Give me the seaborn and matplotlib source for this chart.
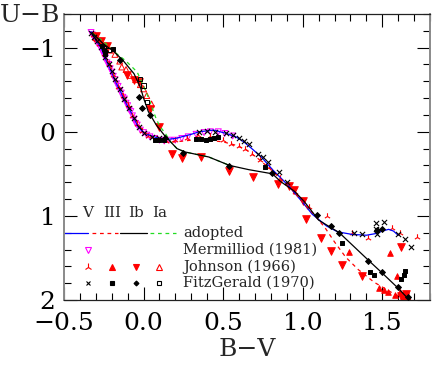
import matplotlib
matplotlib.use("Agg")
import matplotlib.pyplot as plt
from matplotlib.ticker import MultipleLocator
import pandas as pd
import seaborn as sns

# ---------------- adopted sequences (B-V, U-B) ----------------
v_bv = [-0.33, -0.31, -0.30, -0.27, -0.24, -0.21, -0.17, -0.15, -0.13, -0.11, -0.07, -0.04, -0.02, 0.01,
        0.05, 0.10, 0.15, 0.20, 0.30, 0.35, 0.44, 0.52, 0.58, 0.63, 0.68, 0.74, 0.81, 0.91, 1.00, 1.06,
        1.15, 1.22, 1.31, 1.40, 1.46, 1.50, 1.54, 1.57, 1.60]
v_ub = [-1.19, -1.13, -1.09, -1.01, -0.87, -0.75, -0.57, -0.50, -0.42, -0.34, -0.20, -0.08, -0.03, 0.02,
        0.05, 0.08, 0.09, 0.08, 0.03, 0.00, -0.02, 0.02, 0.06, 0.12, 0.20, 0.30, 0.45, 0.64, 0.84, 0.98,
        1.12, 1.19, 1.22, 1.23, 1.21, 1.18, 1.16, 1.18, 1.23]

iii_bv = [-0.32, -0.29, -0.26, -0.24, -0.20, -0.17, -0.13, -0.11, -0.07, -0.03, 0.00, 0.05, 0.10, 0.15,
          0.20, 0.30, 0.40, 0.50, 0.58, 0.65, 0.72, 0.80, 0.86, 0.94, 1.00, 1.07, 1.14, 1.20, 1.27, 1.35,
          1.45, 1.54, 1.63]
iii_ub = [-1.18, -1.08, -0.98, -0.90, -0.74, -0.60, -0.45, -0.37, -0.21, -0.08, 0.00, 0.06, 0.10, 0.12,
          0.12, 0.10, 0.10, 0.12, 0.16, 0.22, 0.32, 0.45, 0.56, 0.70, 0.84, 0.98, 1.14, 1.31, 1.49, 1.64,
          1.79, 1.89, 1.99]

ib_bv = [-0.32, -0.25, -0.19, -0.13, -0.06, -0.02, 0.00, 0.03, 0.08, 0.13, 0.17, 0.21, 0.26, 0.41, 0.54,
         0.66, 0.81, 0.86, 0.95, 1.01, 1.10, 1.23, 1.42, 1.50, 1.60, 1.66]
ib_ub = [-1.17, -1.04, -0.96, -0.85, -0.69, -0.53, -0.40, -0.24, -0.08, 0.04, 0.12, 0.20, 0.24, 0.30, 0.40,
         0.45, 0.50, 0.59, 0.71, 0.83, 1.05, 1.20, 1.54, 1.68, 1.86, 1.98]

ia_bv = [-0.32, -0.25, -0.19, -0.11, -0.04, 0.01, 0.04, 0.074, 0.10, 0.137, 0.17, 0.21, 0.26, 0.41, 0.54]
ia_ub = [-1.17, -1.07, -0.96, -0.84, -0.71, -0.50, -0.36, -0.18, -0.07, 0.02, 0.12, 0.20, 0.24, 0.30, 0.40]

# ---------------- Mermilliod (1981), class V ----------------
merm_bv = [-0.33, -0.32, -0.31, -0.30, -0.29, -0.28, -0.27, -0.26, -0.25, -0.24, -0.23, -0.22, -0.21, -0.20,
           -0.19, -0.18, -0.17, -0.16, -0.15, -0.14, -0.13, -0.12, -0.11, -0.10, -0.09, -0.08, -0.07, -0.06,
           -0.05, -0.04, -0.02, 0.00, 0.02, 0.04, 0.07, 0.10, 0.13, 0.16, 0.20, 0.24, 0.28, 0.33, 0.38, 0.42,
           0.47, 0.51, 0.56]
merm_ub = [-1.18, -1.15, -1.11, -1.10, -1.05, -1.04, -0.99, -0.96, -0.91, -0.88, -0.82, -0.80, -0.75, -0.71,
           -0.66, -0.62, -0.57, -0.54, -0.49, -0.46, -0.41, -0.39, -0.34, -0.31, -0.26, -0.24, -0.19, -0.15,
           -0.10, -0.08, -0.02, 0.01, 0.04, 0.06, 0.08, 0.10, 0.11, 0.10, 0.10, 0.08, 0.06, 0.03, 0.01, 0.00,
           0.00, 0.02, 0.05]

# ---------------- Johnson (1966) ----------------
jv_bv = [-0.32, -0.30, -0.28, -0.25, -0.22, -0.19, -0.16, -0.13, -0.10, -0.07, -0.04, -0.01, 0.03, 0.08,
         0.14, 0.20, 0.27, 0.34, 0.42, 0.50, 0.55, 0.60, 0.64, 0.68, 0.73, 0.79, 0.86, 0.95, 1.04, 1.15,
         1.31, 1.41, 1.56, 1.61, 1.72]
jv_ub = [-1.15, -1.09, -1.04, -0.93, -0.81, -0.67, -0.53, -0.43, -0.32, -0.19, -0.09, -0.01, 0.05, 0.09,
         0.11, 0.10, 0.07, 0.04, 0.05, 0.10, 0.14, 0.17, 0.21, 0.27, 0.33, 0.42, 0.55, 0.72, 0.90, 1.00,
         1.20, 1.26, 1.14, 1.20, 1.25]
jiii_bv = [1.29, 1.55, 1.59, 1.48, 1.51, 1.535, 1.61, 1.63, 1.58, 1.66, 1.64]
jiii_ub = [1.43, 1.44, 1.72, 1.86, 1.88, 1.91, 1.91, 1.96, 1.94, 1.98, 2.00]
jib_bv = [-0.30, -0.27, -0.23, -0.105, -0.06, -0.03, 0.04, 0.10, 0.18, 0.24, 0.36, 0.54, 0.69, 0.845,
          0.915, 0.946, 1.005, 1.02, 1.115, 1.18, 1.245, 1.37, 1.62, 1.615, 1.64, 1.65]
jib_ub = [-1.14, -1.08, -1.02, -0.67, -0.61, -0.59, -0.27, -0.06, 0.27, 0.31, 0.30, 0.47, 0.54, 0.62,
          0.65, 0.69, 0.82, 1.04, 1.26, 1.42, 1.58, 1.72, 1.375, 1.95, 1.97, 1.93]
jia_bv = [-0.30, -0.27, -0.24, -0.21, -0.18, -0.15, -0.137, -0.11, -0.084, -0.05, -0.02, 0.00, 0.02, 0.05]
jia_ub = [-1.12, -1.08, -1.02, -0.97, -0.92, -0.84, -0.77, -0.74, -0.67, -0.62, -0.56, -0.51, -0.43, -0.33]

# ---------------- FitzGerald (1970) ----------------
fv_bv = [-0.33, -0.31, -0.29, -0.27, -0.24, -0.22, -0.20, -0.18, -0.15, -0.12, -0.09, -0.06, -0.03, 0.00,
         0.05, 0.10, 0.35, 0.40, 0.45, 0.52, 0.56, 0.60, 0.63, 0.66, 0.72, 0.75, 0.78, 0.85, 0.90, 1.32,
         1.37, 1.46, 1.51, 1.47, 1.46, 1.60, 1.64, 1.68]
fv_ub = [-1.17, -1.13, -1.08, -1.01, -0.89, -0.80, -0.72, -0.63, -0.51, -0.39, -0.28, -0.16, -0.06, 0.01,
         0.06, 0.08, 0.00, -0.01, 0.00, 0.02, 0.04, 0.08, 0.11, 0.14, 0.26, 0.30, 0.36, 0.48, 0.60, 1.20,
         1.22, 1.09, 1.07, 1.22, 1.16, 1.21, 1.27, 1.37]
fiii_bv = [-0.26, -0.19, -0.24, 0.07, 0.10, 0.13, 0.33, 0.36, 0.39, 0.42, 0.44, 0.47, 0.76, 1.25, 1.425,
           1.445, 1.62, 1.634, 1.646]
fiii_ub = [-1.02, -0.98, -0.93, 0.10, 0.10, 0.10, 0.09, 0.09, 0.10, 0.09, 0.08, 0.06, 0.42, 1.32, 1.67,
           1.70, 1.75, 1.70, 1.66]
fib_bv = [-0.24, -0.147, -0.03, -0.01, 0.04, 0.137, 0.25, 0.54, 0.81, 1.09, 1.18, 1.23, 1.41, 1.50, 1.60,
          1.66, 1.47, 1.50]
fib_ub = [-0.96, -0.85, -0.41, -0.28, -0.20, 0.08, 0.25, 0.41, 0.49, 0.99, 1.12, 1.20, 1.54, 1.67, 1.85,
          1.97, 1.17, 1.16]
fia_bv = [-0.25, -0.22, -0.02, 0.00, 0.02]
fia_ub = [-0.99, -0.97, -0.63, -0.55, -0.35]

legend_header = ["V", "III", "Ib", "Ia"]
legend_labels = ["adopted", "Mermilliod (1981)", "Johnson (1966)", "FitzGerald (1970)"]

RED, MAG, BLUE, GREEN = "#ff0000", "#ff00ff", "#0000ff", "#22dd22"

sns.set_style("ticks")
plt.rcParams["font.family"] = ["DejaVu Serif"]
plt.rcParams["axes.unicode_minus"] = True

fig = plt.figure(figsize=(4.36, 3.66), dpi=100)
ax = fig.add_axes([64 / 436, 1 - 300 / 366, 366 / 436, 286 / 366])


def points(bv, ub, marker, color, filled, s, z):
    df = pd.DataFrame({"bv": bv, "ub": ub})
    if marker in ("x", "2"):
        sns.scatterplot(data=df, x="bv", y="ub", marker=marker, color=color, s=s,
                        linewidth=0.8, ax=ax, legend=False, zorder=z)
    else:
        sns.scatterplot(data=df, x="bv", y="ub", marker=marker, color=color, s=s,
                        linewidth=0.7, edgecolor=color, ax=ax, legend=False, zorder=z)
        if not filled:
            coll = ax.collections[-1]
            coll.set_facecolor("none")
            coll.set_edgecolor(color)


def line(bv, ub, color, ls, z):
    sns.lineplot(x=bv, y=ub, sort=False, estimator=None, color=color, linestyle=ls,
                 linewidth=0.9, ax=ax, zorder=z)


points(merm_bv, merm_ub, "v", MAG, False, 18, 2)
points(jv_bv, jv_ub, "2", RED, True, 22, 2)
points(jiii_bv, jiii_ub, "^", RED, True, 16, 2)
points(jib_bv, jib_ub, "v", RED, True, 30, 2)
points(jia_bv, jia_ub, "^", RED, False, 18, 2)

line(v_bv, v_ub, BLUE, "-", 3)
line(iii_bv, iii_ub, RED, (0, (3, 3)), 3)
line(ia_bv, ia_ub, GREEN, (0, (3, 3)), 3)
line(ib_bv, ib_ub, "#000000", "-", 3)

points(fv_bv, fv_ub, "x", "black", True, 14, 4)
points(fiii_bv, fiii_ub, "s", "black", True, 9, 4)
points(fib_bv, fib_ub, "D", "black", True, 9, 4)
points(fia_bv, fia_ub, "s", "black", False, 9, 4)

ax.set_xlim(-0.5, 1.8)
ax.set_ylim(2.0, -1.4)
ax.xaxis.set_major_locator(MultipleLocator(0.5))
ax.xaxis.set_minor_locator(MultipleLocator(0.1))
ax.yaxis.set_major_locator(MultipleLocator(1))
ax.yaxis.set_minor_locator(MultipleLocator(0.2))
ax.tick_params(which="both", direction="in", top=True, right=True, colors="black")
ax.tick_params(which="major", length=9.5, width=0.8, labelsize=18)
ax.tick_params(which="minor", length=5, width=0.8)
ax.tick_params(axis="x", which="major", pad=9)
ax.tick_params(axis="y", which="major", pad=6)
for side in ["left", "right"]:
    ax.spines[side].set_color("#8a8a8a")
    ax.spines[side].set_linewidth(1.4)
for side in ["top", "bottom"]:
    ax.spines[side].set_color("#222222")
    ax.spines[side].set_linewidth(0.9)

ax.set_xlabel("B\u2212V", fontsize=18, labelpad=2)
ax.set_ylabel("U\u2212B", fontsize=18, rotation=0, ha="center", va="center")
ax.yaxis.set_label_coords(-0.093, 0.995)

# ---------------- legend (drawn as a key block) ----------------
T = ax.transAxes
col_x = [0.066, 0.131, 0.197, 0.260]
seg_x = [(0.0, 0.066), (0.077, 0.148), (0.153, 0.227), (0.235, 0.306)]
row_y = [0.304, 0.234, 0.175, 0.115, 0.059]
txt_x = 0.325
for cx, h in zip(col_x, legend_header):
    ax.text(cx, row_y[0], h, transform=T, ha="center", va="center", fontsize=11)
for (x0, x1), c, ls in zip(seg_x, [BLUE, RED, "black", GREEN],
                           ["-", (0, (3, 3)), "-", (0, (3, 3))]):
    ax.plot([x0, x1], [row_y[1], row_y[1]], transform=T, color=c, linestyle=ls, lw=0.9)
key_specs = [
    [("v", MAG, False, 5)],
    [("2", RED, True, 6), ("^", RED, True, 4.5), ("v", RED, True, 4.5), ("^", RED, False, 4.5)],
    [("x", "black", True, 3.5), ("s", "black", True, 2.5), ("D", "black", True, 2.5),
     ("s", "black", False, 2.5)],
]
for r, specs in enumerate(key_specs):
    for cx, (m, c, f, ms) in zip(col_x, specs):
        ax.plot([cx], [row_y[r + 2]], transform=T, marker=m, color=c, ms=ms, mew=0.8,
                mfc=c if f else "none", mec=c, linestyle="none")
for r, lab in enumerate(legend_labels):
    ax.text(txt_x, row_y[r + 1], lab, transform=T, ha="left", va="center", fontsize=10.5)

fig.savefig("out.png", dpi=100)
